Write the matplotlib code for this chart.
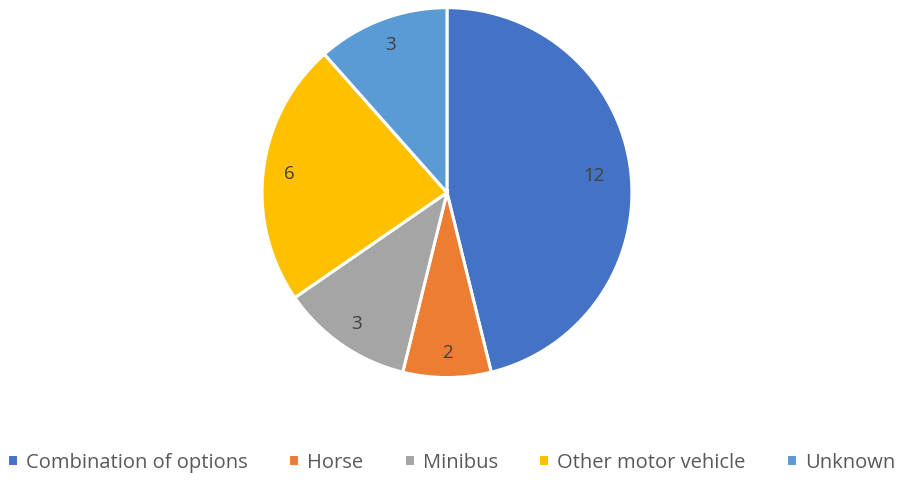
import matplotlib
matplotlib.use("Agg")
from matplotlib import pyplot as plt

categories = ["Combination of options", "Horse", "Minibus", "Other motor vehicle", "Unknown"]
values = [12, 2, 3, 6, 3]
colors = ["#4472C4", "#ED7D31", "#A5A5A5", "#FFC000", "#5B9BD5"]

plt.rcParams['font.family'] = ['Open Sans', 'DejaVu Sans']

fig = plt.figure(figsize=(8.99, 4.81), dpi=100)
ax = fig.add_axes([0.2914, 0.213, 0.4116, 0.769])

total = sum(values)
wedges, texts, autotexts = ax.pie(
    values, colors=colors, startangle=90, counterclock=False,
    autopct=lambda p: "%d" % round(p * total / 100.0), pctdistance=0.86,
    wedgeprops=dict(edgecolor="white", linewidth=2.2),
    textprops=dict(color="#404040", fontsize=13.5))
# the big slice label sits a bit further in
autotexts[0].set_position((0.80 * autotexts[0].get_position()[0] / 0.86,
                           0.80 * autotexts[0].get_position()[1] / 0.86))
ax.set_xlim(-1, 1)
ax.set_ylim(-1, 1)
ax.set_aspect("equal")

fig.legend(wedges, categories, loc="center", bbox_to_anchor=(0.502, 0.037),
           ncol=5, frameon=False, fontsize=14.5, labelcolor="#595959",
           handlelength=0.55, handleheight=0.55, handletextpad=0.4,
           columnspacing=2.0)

fig.savefig("out.png", dpi=100)
